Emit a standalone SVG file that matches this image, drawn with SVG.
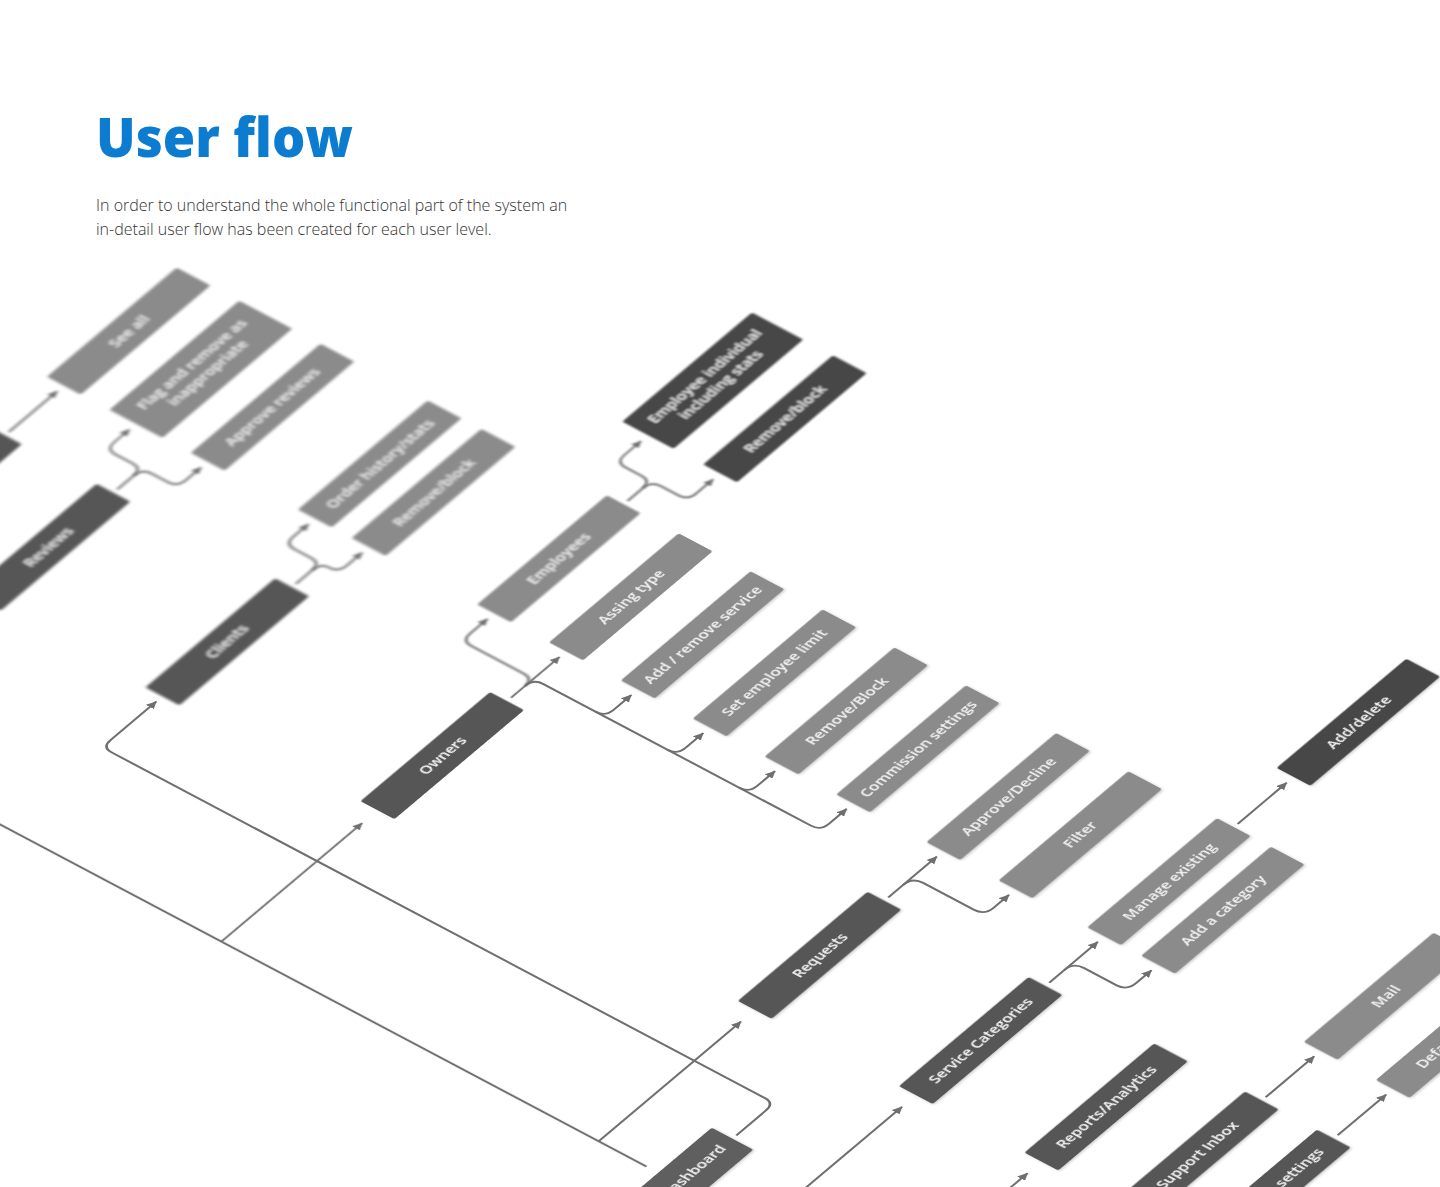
<svg xmlns="http://www.w3.org/2000/svg" width="1440" height="1187" viewBox="0 0 1440 1187">
<defs>
<style>
.title{font-family:"Open Sans","Liberation Sans",sans-serif;font-weight:800;font-size:54px;fill:#0b7cd0}
.intro{font-family:"Open Sans","Liberation Sans",sans-serif;font-weight:300;font-size:16px;fill:#333333}
.node rect{stroke:none}
.light rect{fill:#8b8b8b}
.dark rect{fill:#575757}
.darker rect{fill:#464646}
.root rect{fill:#5f5f5f}
.node text{font-family:"Open Sans","Liberation Sans",sans-serif;font-weight:600;font-size:14.5px;fill:#f4f4f4;text-anchor:middle}
.c path{fill:none;stroke:#6f6f6f;stroke-width:2.2}
.a{marker-end:url(#arr)}
</style>
<marker id="arr" markerUnits="userSpaceOnUse" markerWidth="10" markerHeight="9" refX="8.5" refY="4.5" orient="auto">
<path d="M0,0 L9,4.5 L0,9 z" fill="#6f6f6f"/>
</marker>
<filter id="b3" filterUnits="userSpaceOnUse" x="-1200" y="0" width="1600" height="2200"><feGaussianBlur stdDeviation="1.8"/></filter>
<filter id="b2" filterUnits="userSpaceOnUse" x="-1200" y="0" width="1600" height="2200"><feGaussianBlur stdDeviation="1.1"/></filter>
<filter id="b1" filterUnits="userSpaceOnUse" x="-1200" y="0" width="1600" height="2200"><feGaussianBlur stdDeviation="0.6"/></filter>
<filter id="sh" filterUnits="userSpaceOnUse" x="-1200" y="0" width="1600" height="2200"><feDropShadow dx="0" dy="1.5" stdDeviation="1.5" flood-color="#000" flood-opacity="0.22"/></filter>
</defs>
<rect x="0" y="0" width="1440" height="1187" fill="#ffffff"/>
<text class="title" x="96" y="157" textLength="257" lengthAdjust="spacingAndGlyphs">User flow</text>
<text class="intro" x="96" y="211">In order to understand the whole functional part of the system an</text>
<text class="intro" x="96" y="235">in-detail user flow has been created for each user level.</text>

<g id="diagram" transform="matrix(0.765 -0.644 0.8824 0.467 0 0)">
<g id="connectors" class="c">
<path class="a" filter="url(#b3)" d="M-407.5 363.2 H-344"/>
<path class="a" filter="url(#b3)" d="M-407.5 486.2 H-386 Q-375 486.2 -375 475.2 V456 Q-375 445 -364 445 H-344"/>
<path class="a" filter="url(#b3)" d="M-386 486.2 Q-375 486.2 -375 497.2 V515.2 Q-375 526.2 -364 526.2 H-344"/>
<path class="a" filter="url(#b3)" d="M-407.5 688.6 H-386 Q-375 688.6 -375 677.6 V658.7 Q-375 647.7 -364 647.7 H-344"/>
<path class="a" filter="url(#b3)" d="M-386 688.6 Q-375 688.6 -375 698.65 Q-375 708.7 -364 708.7 H-344"/>
<path class="a" filter="url(#b2)" d="M-161 850.7 H-141 Q-130 850.7 -130 839.7 V821.6 Q-130 810.6 -119 810.6 H-97"/>
<path class="a" filter="url(#b2)" d="M-141 850.7 Q-130 850.7 -130 861.7 V881.4 Q-130 892.4 -119 892.4 H-97"/>
<path class="a" filter="url(#b2)" d="M-389 932.3 Q-378 932.3 -378 921.3 V861.7 Q-378 850.7 -367 850.7 H-344"/>
<path class="a" filter="url(#b1)" d="M-407.5 932.3 H-344"/>
<path class="a" d="M-389 932.3 Q-378 932.3 -378 943.3 V1246.7 Q-378 1257.7 -367 1257.7 H-344"/>
<path class="a" d="M-378 1002.7 Q-378 1013.7 -367 1013.7 H-344"/>
<path class="a" d="M-378 1084.2 Q-378 1095.2 -367 1095.2 H-344"/>
<path class="a" d="M-378 1165.5 Q-378 1176.5 -367 1176.5 H-344"/>
<path class="a" d="M-407.5 1359.9 H-344"/>
<path class="a" d="M-388 1359.9 Q-376 1359.9 -376 1371.9 V1429.7 Q-376 1441.7 -364 1441.7 H-344"/>
<path class="a" d="M-407.5 1542.4 H-344"/>
<path class="a" d="M-388 1542.4 Q-376 1542.4 -376 1554.4 V1591.2 Q-376 1603.2 -364 1603.2 H-344"/>
<path class="a" d="M-161 1542.2 H-97"/>
<path class="a" d="M-407.5 1787.6 H-344"/>
<path class="a" d="M-407.5 1869.2 H-344"/>
<path filter="url(#b1)" d="M-786 560 V1414"/>
<path class="a" filter="url(#b1)" d="M-786 932.3 H-602"/>
<path class="a" d="M-786 1359.9 H-600"/>
<path d="M-786 1487 V1684.7"/>
<path class="a" d="M-786 1542.4 H-600"/>
<path class="a" d="M-786 1684.7 H-600"/>
<path class="a" d="M-711 1450.8 H-672 Q-661 1450.8 -661 1439.8 V699.6 Q-661 688.6 -650 688.6 H-590"/>
</g>

<g id="n-top" class="node dark" filter="url(#b3)"><rect x="-582" y="344" width="169.5" height="38.4" rx="2"/></g>
<g id="n-see-all" class="node light" filter="url(#b3)"><rect x="-335.5" y="344" width="169.5" height="38.4" rx="2"/><text x="-250.75" y="368.2">See all</text></g>
<g id="n-flag" class="node light" filter="url(#b3)"><rect x="-335.5" y="415" width="169.5" height="60" rx="2"/><text x="-250.75" y="440">Flag and remove as</text><text x="-250.75" y="458">inappropriate</text></g>
<g id="n-reviews" class="node dark" filter="url(#b3)"><rect x="-582" y="467" width="169.5" height="38.4" rx="2"/><text x="-497.25" y="491.2">Reviews</text></g>
<g id="n-approve-reviews" class="node light" filter="url(#b3)"><rect x="-335.5" y="507" width="169.5" height="38.4" rx="2"/><text x="-250.75" y="531.2">Approve reviews</text></g>
<g id="n-order-history" class="node light" filter="url(#b3)"><rect x="-335.5" y="628.5" width="169.5" height="38.4" rx="2"/><text x="-250.75" y="652.7">Order history/stats</text></g>
<g id="n-clients" class="node dark" filter="url(#b3)"><rect x="-582" y="669.4" width="169.5" height="38.4" rx="2"/><text x="-497.25" y="693.6">Clients</text></g>
<g id="n-client-remove" class="node light" filter="url(#b3)"><rect x="-335.5" y="689.5" width="169.5" height="38.4" rx="2"/><text x="-250.75" y="713.7">Remove/block</text></g>
<g id="n-employee-stats" class="node darker" filter="url(#b2)"><rect x="-88" y="781.6" width="169.5" height="58" rx="2"/><text x="-3.25" y="806">Employee individual</text><text x="-3.25" y="824">including stats</text></g>
<g id="n-employees" class="node light" filter="url(#b2)"><rect x="-335.5" y="831.5" width="169.5" height="38.4" rx="2"/><text x="-250.75" y="855.7">Employees</text></g>
<g id="n-employee-remove" class="node darker" filter="url(#b2)"><rect x="-88" y="873.2" width="169.5" height="38.4" rx="2"/><text x="-3.25" y="897.4">Remove/block</text></g>
<g id="n-owners" class="node dark" filter="url(#b1)"><rect x="-582" y="913.1" width="169.5" height="38.4" rx="2"/><text x="-497.25" y="937.3">Owners</text></g>
<g id="n-assing-type" class="node light" filter="url(#b1)"><rect x="-335.5" y="913.1" width="169.5" height="38.4" rx="2"/><text x="-250.75" y="937.3">Assing type</text></g>
<g id="n-add-remove-service" class="node light" filter="url(#sh)"><rect x="-335.5" y="994.5" width="169.5" height="38.4" rx="2"/><text x="-250.75" y="1018.7">Add / remove service</text></g>
<g id="n-employee-limit" class="node light" filter="url(#sh)"><rect x="-335.5" y="1076" width="169.5" height="38.4" rx="2"/><text x="-250.75" y="1100.2">Set employee limit</text></g>
<g id="n-owner-remove" class="node light" filter="url(#sh)"><rect x="-335.5" y="1157.3" width="169.5" height="38.4" rx="2"/><text x="-250.75" y="1181.5">Remove/Block</text></g>
<g id="n-commission" class="node light" filter="url(#sh)"><rect x="-335.5" y="1238.5" width="169.5" height="38.4" rx="2"/><text x="-250.75" y="1262.7">Commission settings</text></g>
<g id="n-requests" class="node dark" filter="url(#sh)"><rect x="-582" y="1340.7" width="169.5" height="38.4" rx="2"/><text x="-497.25" y="1364.9">Requests</text></g>
<g id="n-approve-decline" class="node light" filter="url(#sh)"><rect x="-335.5" y="1340.7" width="169.5" height="38.4" rx="2"/><text x="-250.75" y="1364.9">Approve/Decline</text></g>
<g id="n-filter" class="node light" filter="url(#sh)"><rect x="-335.5" y="1422.5" width="169.5" height="38.4" rx="2"/><text x="-250.75" y="1446.7">Filter</text></g>
<g id="n-dashboard" class="node root" filter="url(#sh)"><rect x="-885.5" y="1427.3" width="169.5" height="47" rx="2"/><text x="-767" y="1455.8">Dashboard</text></g>
<g id="n-service-categories" class="node dark" filter="url(#sh)"><rect x="-582" y="1523.2" width="169.5" height="38.4" rx="2"/><text x="-497.25" y="1547.4">Service Categories</text></g>
<g id="n-manage-existing" class="node light" filter="url(#sh)"><rect x="-335.5" y="1523" width="169.5" height="38.4" rx="2"/><text x="-250.75" y="1547.2">Manage existing</text></g>
<g id="n-add-delete" class="node darker" filter="url(#sh)"><rect x="-88" y="1523" width="169.5" height="38.4" rx="2"/><text x="-3.25" y="1547.2">Add/delete</text></g>
<g id="n-add-category" class="node light" filter="url(#sh)"><rect x="-335.5" y="1584" width="169.5" height="38.4" rx="2"/><text x="-250.75" y="1608.2">Add a category</text></g>
<g id="n-reports" class="node dark" filter="url(#sh)"><rect x="-582" y="1665.5" width="169.5" height="38.4" rx="2"/><text x="-497.25" y="1689.7">Reports/Analytics</text></g>
<g id="n-support-inbox" class="node dark" filter="url(#sh)"><rect x="-582" y="1768.4" width="169.5" height="38.4" rx="2"/><text x="-497.25" y="1792.6">Support Inbox</text></g>
<g id="n-mail" class="node light" filter="url(#sh)"><rect x="-335.5" y="1768.3" width="169.5" height="38.4" rx="2"/><text x="-250.75" y="1792.5">Mail</text></g>
<g id="n-settings" class="node dark" filter="url(#sh)"><rect x="-582" y="1850" width="169.5" height="38.4" rx="2"/><text x="-430" y="1874.2" style="text-anchor:end">e settings</text></g>
<g id="n-def" class="node light" filter="url(#sh)"><rect x="-335.5" y="1850" width="169.5" height="38.4" rx="2"/><text x="-301" y="1874.2" style="text-anchor:start">Defa</text></g>
</g>
</svg>
